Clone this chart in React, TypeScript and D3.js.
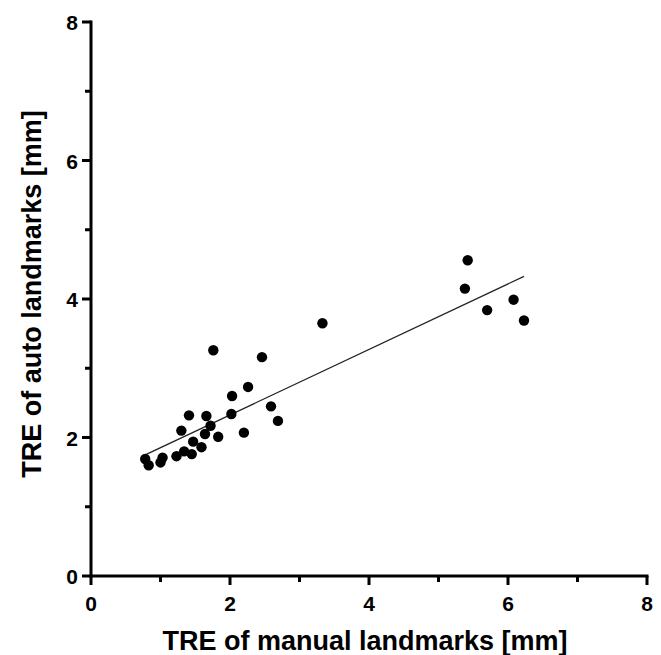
import React from "react";
import * as d3 from "d3";

const manualTRE = [0.78, 0.83, 1.0, 1.03, 1.23, 1.34, 1.45, 1.59, 1.47, 1.3, 1.41, 1.66, 1.64, 1.72, 1.83, 1.76, 2.02, 2.03, 2.26, 2.2, 2.46, 2.59, 2.69, 3.33, 5.42, 5.38, 5.7, 6.08, 6.23];
const autoTRE = [1.69, 1.6, 1.64, 1.71, 1.73, 1.8, 1.76, 1.86, 1.94, 2.1, 2.32, 2.31, 2.05, 2.17, 2.01, 3.26, 2.34, 2.6, 2.73, 2.07, 3.16, 2.45, 2.24, 3.65, 4.56, 4.15, 3.84, 3.99, 3.69];
const fitSlope = 0.473;
const fitIntercept = 1.38;
const xTicks = [0, 2, 4, 6, 8];
const yTicks = [0, 2, 4, 6, 8];
const minorTicks = [1, 3, 5, 7];

export default function App() {
  const W = 661, H = 655;
  const x = d3.scaleLinear().domain([0, 8]).range([91, 647]);
  const y = d3.scaleLinear().domain([0, 8]).range([576, 22]);
  const xMin = d3.min(manualTRE) as number;
  const xMax = d3.max(manualTRE) as number;
  const font = "'Liberation Sans', Arial, sans-serif";
  const sw = 3;
  return (
    <svg width={W} height={H} style={{ position: "absolute", left: 0, top: 0, background: "#fff" }}>
      <rect width={W} height={H} fill="#fff" />
      <line x1={x(xMin)} y1={y(fitSlope * xMin + fitIntercept)} x2={x(xMax)} y2={y(fitSlope * xMax + fitIntercept)} stroke="#222" strokeWidth={1.3} />
      {manualTRE.map((v, i) => (
        <circle key={i} cx={x(v)} cy={y(autoTRE[i])} r={5.2} fill="#000" />
      ))}
      <line x1={x(0)} y1={y(0) + sw / 2} x2={x(0)} y2={y(8) - sw / 2} stroke="#000" strokeWidth={sw} />
      <line x1={x(0) - sw / 2} y1={y(0)} x2={x(8) + sw / 2} y2={y(0)} stroke="#000" strokeWidth={sw} />
      {xTicks.map((t) => (
        <g key={"xt" + t}>
          <line x1={x(t)} x2={x(t)} y1={y(0)} y2={y(0) + 9} stroke="#000" strokeWidth={sw} />
          <text x={x(t)} y={y(0) + 35} textAnchor="middle" fontFamily={font} fontWeight="bold" fontSize={21}>{t}</text>
        </g>
      ))}
      {minorTicks.map((t) => (
        <g key={"mt" + t}>
          <line x1={x(t)} x2={x(t)} y1={y(0)} y2={y(0) + 6} stroke="#000" strokeWidth={sw} />
          <line x1={x(0)} x2={x(0) - 6} y1={y(t)} y2={y(t)} stroke="#000" strokeWidth={sw} />
        </g>
      ))}
      {yTicks.map((t) => (
        <g key={"yt" + t}>
          <line x1={x(0)} x2={x(0) - 9} y1={y(t)} y2={y(t)} stroke="#000" strokeWidth={sw} />
          <text x={x(0) - 13} y={y(t) + 8} textAnchor="end" fontFamily={font} fontWeight="bold" fontSize={21}>{t}</text>
        </g>
      ))}
      <text x={(x(0) + x(8)) / 2 - 4} y={650} textAnchor="middle" fontFamily={font} fontWeight="bold" fontSize={27}>TRE of manual landmarks [mm]</text>
      <text transform={`translate(41, ${(y(0) + y(8)) / 2 - 5}) rotate(-90)`} textAnchor="middle" fontFamily={font} fontWeight="bold" fontSize={27}>TRE of auto landmarks [mm]</text>
    </svg>
  );
}
